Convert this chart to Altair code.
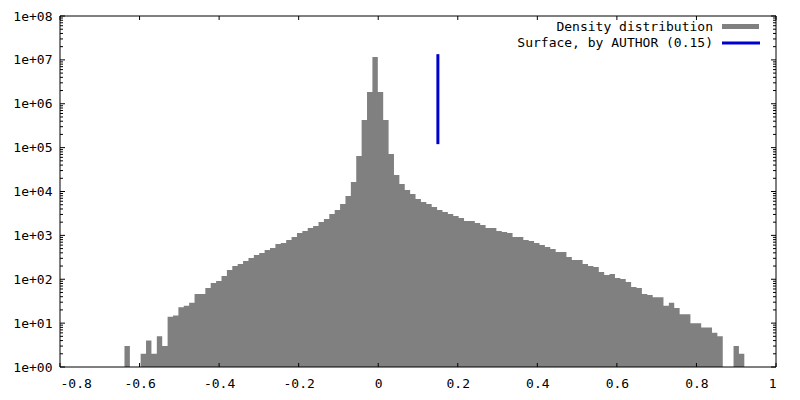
import altair as alt
import pandas as pd

# ---- data ----
first_edge = -0.6379      # left edge of first histogram bin
bin_width = 0.01355       # histogram bin width
counts = [
    3, 1, 1, 2, 4, 2, 5, 3, 14, 15,
    23, 25, 29, 46, 46, 63, 82, 91, 119, 162,
    200, 223, 261, 305, 357, 396, 464, 515, 636, 670,
    785, 918, 1133, 1258, 1472, 1636, 2018, 2361, 3070, 3786,
    5188, 7894, 16480, 64400, 426000, 1850000, 11600000, 1850000, 426000, 71600,
    23800, 14800, 10800, 8770, 6745, 5765, 5188, 4435, 3786, 3412,
    3070, 2766, 2489, 2128, 2128, 1914, 1722, 1472, 1472, 1258,
    1194, 1133, 918, 918, 785, 745, 670, 604, 543, 489,
    418, 418, 321, 275, 275, 223, 200, 190, 146, 125,
    132, 107, 101, 87, 67, 63, 46, 44, 39, 39,
    25, 29, 22, 16, 16, 10, 10, 8, 8, 6,
    5, 1, 1, 3, 2,
]
surface_x = [0.15]
surface_low = [1.2e5]
surface_high = [1.35e7]
legend_labels = ["Density distribution", "Surface, by AUTHOR (0.15)"]

x_tick_values = [-0.8, -0.6, -0.4, -0.2, 0.0, 0.2, 0.4, 0.6, 0.8, 1.0]
y_major = [1e0, 1e1, 1e2, 1e3, 1e4, 1e5, 1e6, 1e7, 1e8]
y_minor = [m * 10 ** k for k in range(8) for m in range(2, 10)]

W, H = 716, 351
FONT = "DejaVu Sans Mono"
GRAY = "#808080"
BLUE = "#0000cc"

# histogram as one step-shaped area (bin left edges + closing right edge)
edges = [first_edge + i * bin_width for i in range(len(counts) + 1)]
hist = pd.DataFrame({"x": edges, "count": counts + [counts[-1]]})

xs = alt.Scale(domain=[-0.8, 1.0], nice=False, zero=False)
ys = alt.Scale(type="log", domain=[1, 1e8], nice=False)

x_axis = alt.Axis(values=x_tick_values, title=None, ticks=False, tickSize=0,
                  domain=False, grid=False, labelPadding=10,
                  labelExpr="toString(round(datum.value*10)/10)",
                  labelFont=FONT, labelFontSize=13, labelColor="black")
y_axis = alt.Axis(values=y_major, title=None, ticks=False, tickSize=0,
                  domain=False, grid=False, labelPadding=8,
                  labelExpr="'1e+0' + format(log(datum.value)/LN10, '.0f')",
                  labelFont=FONT, labelFontSize=13, labelColor="black")

bars = alt.Chart(hist).mark_area(color=GRAY, interpolate="step-after", opacity=1).encode(
    x=alt.X("x:Q", scale=xs, axis=x_axis),
    y=alt.Y("count:Q", scale=ys, axis=y_axis),
    y2=alt.datum(1),
)

surf_df = pd.DataFrame({"x": surface_x, "lo": surface_low, "hi": surface_high})
surface = alt.Chart(surf_df).mark_rule(color=BLUE, strokeWidth=3).encode(
    x=alt.X("x:Q", scale=xs), y=alt.Y("lo:Q", scale=ys), y2="hi:Q"
)

xt = pd.DataFrame({"v": x_tick_values})
xticks_bottom = alt.Chart(xt).mark_rule(color="black").encode(
    x=alt.X("v:Q", scale=xs), y=alt.value(H), y2=alt.value(H - 4)
)
xticks_top = alt.Chart(xt).mark_rule(color="black").encode(
    x=alt.X("v:Q", scale=xs), y=alt.value(0), y2=alt.value(4)
)
ymj = pd.DataFrame({"v": y_major})
ymn = pd.DataFrame({"v": y_minor})
yticks = []
for df, ln in ((ymj, 5), (ymn, 3)):
    yticks.append(alt.Chart(df).mark_rule(color="black").encode(
        y=alt.Y("v:Q", scale=ys), x=alt.value(0), x2=alt.value(ln)))
    yticks.append(alt.Chart(df).mark_rule(color="black").encode(
        y=alt.Y("v:Q", scale=ys), x=alt.value(W), x2=alt.value(W - ln)))

frame = alt.Chart(pd.DataFrame({"a": [0]})).mark_rect(
    fill=None, stroke="black", strokeWidth=1
).encode(x=alt.value(0), x2=alt.value(W), y=alt.value(0), y2=alt.value(H))

leg_text1 = alt.Chart(pd.DataFrame({"t": [legend_labels[0]]})).mark_text(
    align="right", baseline="middle", font=FONT, fontSize=13, color="black"
).encode(text="t:N", x=alt.value(653), y=alt.value(11))
leg_text2 = alt.Chart(pd.DataFrame({"t": [legend_labels[1]]})).mark_text(
    align="right", baseline="middle", font=FONT, fontSize=13, color="black"
).encode(text="t:N", x=alt.value(653), y=alt.value(26.5))
leg_box = alt.Chart(pd.DataFrame({"a": [0]})).mark_rect(color=GRAY).encode(
    x=alt.value(662), x2=alt.value(699), y=alt.value(8), y2=alt.value(13)
)
leg_line = alt.Chart(pd.DataFrame({"a": [0]})).mark_rule(color=BLUE, strokeWidth=3).encode(
    x=alt.value(662), x2=alt.value(700), y=alt.value(27)
)

chart = alt.layer(
    bars, surface, xticks_bottom, xticks_top, *yticks, frame,
    leg_text1, leg_text2, leg_box, leg_line
).properties(
    width=W, height=H,
    autosize=alt.AutoSizeParams(type="none"),
    padding={"left": 52, "top": 8, "right": 16, "bottom": 33},
    background="white",
).configure_view(stroke=None)

chart.save("out.html", embed_options={"renderer": "svg", "actions": False})
